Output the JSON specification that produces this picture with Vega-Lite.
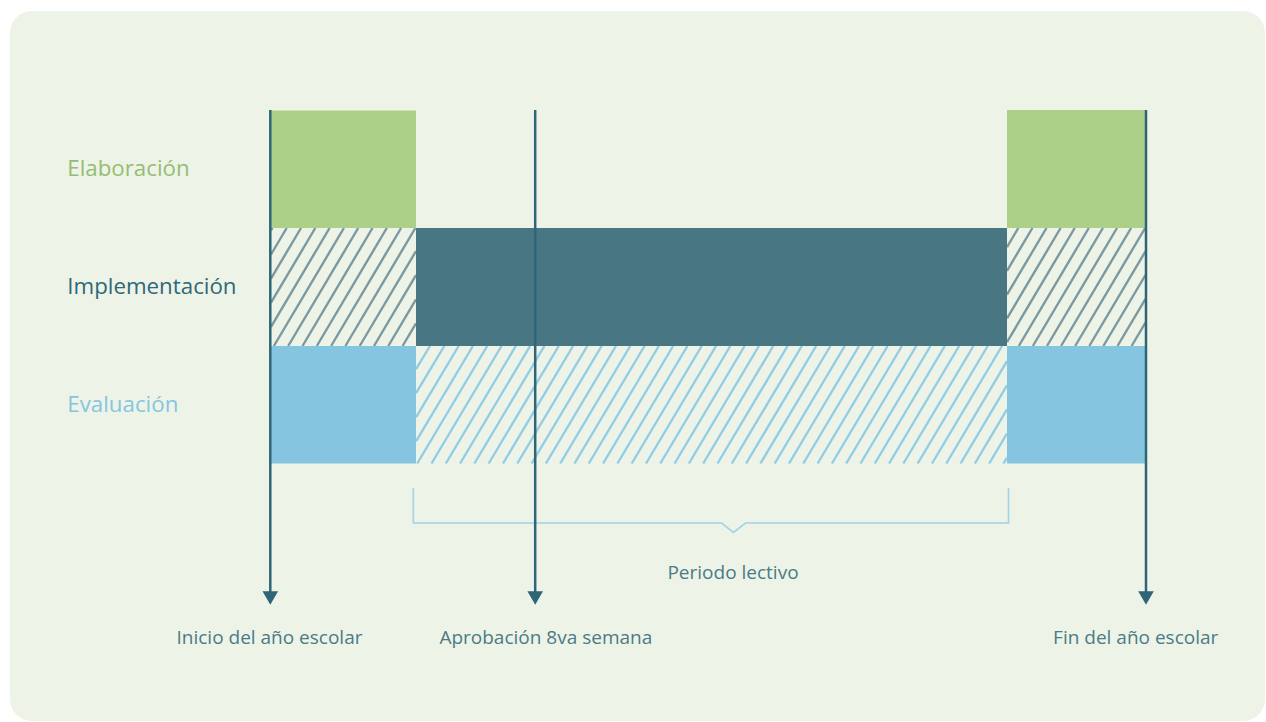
{
  "$schema": "https://vega.github.io/schema/vega-lite/v6.json",
  "autosize": {"type": "fit", "contains": "padding"},
  "width": 1266,
  "height": 722,
  "padding": {"left": 10, "top": 11, "right": 1, "bottom": 1},
  "background": "#ffffff",
  "config": {
    "view": {"fill": "#eef3e8", "stroke": null, "cornerRadius": 22},
    "axis": {"disable": true}
  },
  "datasets": {
    "bloques": [
      {"fase": "Elaboración", "x": 271, "x2": 416, "y": 110.5, "y2": 228},
      {"fase": "Elaboración", "x": 1007, "x2": 1145.5, "y": 110, "y2": 228},
      {"fase": "Implementación", "x": 416, "x2": 1007, "y": 228, "y2": 346},
      {"fase": "Evaluación", "x": 271, "x2": 416, "y": 346, "y2": 463.5},
      {"fase": "Evaluación", "x": 1007, "x2": 1145.5, "y": 346, "y2": 463.5}
    ],
    "trama": [
      {"fase": "Implementación", "x": 271, "y": 230.4, "x2": 272.4, "y2": 228},
      {"fase": "Implementación", "x": 271, "y": 254.5, "x2": 286.7, "y2": 228},
      {"fase": "Implementación", "x": 271, "y": 278.6, "x2": 301, "y2": 228},
      {"fase": "Implementación", "x": 271, "y": 302.7, "x2": 315.3, "y2": 228},
      {"fase": "Implementación", "x": 271, "y": 326.8, "x2": 329.6, "y2": 228},
      {"fase": "Implementación", "x": 273.9, "y": 346, "x2": 343.9, "y2": 228},
      {"fase": "Implementación", "x": 288.2, "y": 346, "x2": 358.2, "y2": 228},
      {"fase": "Implementación", "x": 302.5, "y": 346, "x2": 372.5, "y2": 228},
      {"fase": "Implementación", "x": 316.8, "y": 346, "x2": 386.8, "y2": 228},
      {"fase": "Implementación", "x": 331.1, "y": 346, "x2": 401.1, "y2": 228},
      {"fase": "Implementación", "x": 345.4, "y": 346, "x2": 415.4, "y2": 228},
      {"fase": "Implementación", "x": 359.7, "y": 346, "x2": 416, "y2": 251.1},
      {"fase": "Implementación", "x": 374, "y": 346, "x2": 416, "y2": 275.2},
      {"fase": "Implementación", "x": 388.3, "y": 346, "x2": 416, "y2": 299.3},
      {"fase": "Implementación", "x": 402.6, "y": 346, "x2": 416, "y2": 323.4},
      {"fase": "Implementación", "x": 1007, "y": 247.1, "x2": 1018.3, "y2": 228},
      {"fase": "Implementación", "x": 1007, "y": 270.8, "x2": 1032.4, "y2": 228},
      {"fase": "Implementación", "x": 1007, "y": 294.6, "x2": 1046.5, "y2": 228},
      {"fase": "Implementación", "x": 1007, "y": 318.4, "x2": 1060.6, "y2": 228},
      {"fase": "Implementación", "x": 1007, "y": 342.1, "x2": 1074.7, "y2": 228},
      {"fase": "Implementación", "x": 1018.8, "y": 346, "x2": 1088.8, "y2": 228},
      {"fase": "Implementación", "x": 1032.9, "y": 346, "x2": 1102.9, "y2": 228},
      {"fase": "Implementación", "x": 1047, "y": 346, "x2": 1117, "y2": 228},
      {"fase": "Implementación", "x": 1061.1, "y": 346, "x2": 1131.1, "y2": 228},
      {"fase": "Implementación", "x": 1075.2, "y": 346, "x2": 1145.2, "y2": 228},
      {"fase": "Implementación", "x": 1089.3, "y": 346, "x2": 1145.5, "y2": 251.3},
      {"fase": "Implementación", "x": 1103.4, "y": 346, "x2": 1145.5, "y2": 275},
      {"fase": "Implementación", "x": 1117.5, "y": 346, "x2": 1145.5, "y2": 298.8},
      {"fase": "Implementación", "x": 1131.6, "y": 346, "x2": 1145.5, "y2": 322.6},
      {"fase": "Evaluación", "x": 416, "y": 369.1, "x2": 430, "y2": 346},
      {"fase": "Evaluación", "x": 416, "y": 393.2, "x2": 444.3, "y2": 346},
      {"fase": "Evaluación", "x": 416, "y": 417.3, "x2": 458.6, "y2": 346},
      {"fase": "Evaluación", "x": 416, "y": 441.4, "x2": 472.9, "y2": 346},
      {"fase": "Evaluación", "x": 417.2, "y": 463.5, "x2": 487.2, "y2": 346},
      {"fase": "Evaluación", "x": 431.5, "y": 463.5, "x2": 501.5, "y2": 346},
      {"fase": "Evaluación", "x": 445.8, "y": 463.5, "x2": 515.8, "y2": 346},
      {"fase": "Evaluación", "x": 460.1, "y": 463.5, "x2": 530.1, "y2": 346},
      {"fase": "Evaluación", "x": 474.4, "y": 463.5, "x2": 544.4, "y2": 346},
      {"fase": "Evaluación", "x": 488.7, "y": 463.5, "x2": 558.7, "y2": 346},
      {"fase": "Evaluación", "x": 503, "y": 463.5, "x2": 573, "y2": 346},
      {"fase": "Evaluación", "x": 517.3, "y": 463.5, "x2": 587.3, "y2": 346},
      {"fase": "Evaluación", "x": 531.6, "y": 463.5, "x2": 601.6, "y2": 346},
      {"fase": "Evaluación", "x": 545.9, "y": 463.5, "x2": 615.9, "y2": 346},
      {"fase": "Evaluación", "x": 560.2, "y": 463.5, "x2": 630.2, "y2": 346},
      {"fase": "Evaluación", "x": 574.5, "y": 463.5, "x2": 644.5, "y2": 346},
      {"fase": "Evaluación", "x": 588.8, "y": 463.5, "x2": 658.8, "y2": 346},
      {"fase": "Evaluación", "x": 603.1, "y": 463.5, "x2": 673.1, "y2": 346},
      {"fase": "Evaluación", "x": 617.4, "y": 463.5, "x2": 687.4, "y2": 346},
      {"fase": "Evaluación", "x": 631.7, "y": 463.5, "x2": 701.7, "y2": 346},
      {"fase": "Evaluación", "x": 646, "y": 463.5, "x2": 716, "y2": 346},
      {"fase": "Evaluación", "x": 660.3, "y": 463.5, "x2": 730.3, "y2": 346},
      {"fase": "Evaluación", "x": 674.6, "y": 463.5, "x2": 744.6, "y2": 346},
      {"fase": "Evaluación", "x": 688.9, "y": 463.5, "x2": 758.9, "y2": 346},
      {"fase": "Evaluación", "x": 703.2, "y": 463.5, "x2": 773.2, "y2": 346},
      {"fase": "Evaluación", "x": 717.5, "y": 463.5, "x2": 787.5, "y2": 346},
      {"fase": "Evaluación", "x": 731.8, "y": 463.5, "x2": 801.8, "y2": 346},
      {"fase": "Evaluación", "x": 746.1, "y": 463.5, "x2": 816.1, "y2": 346},
      {"fase": "Evaluación", "x": 760.4, "y": 463.5, "x2": 830.4, "y2": 346},
      {"fase": "Evaluación", "x": 774.7, "y": 463.5, "x2": 844.7, "y2": 346},
      {"fase": "Evaluación", "x": 789, "y": 463.5, "x2": 859, "y2": 346},
      {"fase": "Evaluación", "x": 803.3, "y": 463.5, "x2": 873.3, "y2": 346},
      {"fase": "Evaluación", "x": 817.6, "y": 463.5, "x2": 887.6, "y2": 346},
      {"fase": "Evaluación", "x": 831.9, "y": 463.5, "x2": 901.9, "y2": 346},
      {"fase": "Evaluación", "x": 846.2, "y": 463.5, "x2": 916.2, "y2": 346},
      {"fase": "Evaluación", "x": 860.5, "y": 463.5, "x2": 930.5, "y2": 346},
      {"fase": "Evaluación", "x": 874.8, "y": 463.5, "x2": 944.8, "y2": 346},
      {"fase": "Evaluación", "x": 889.1, "y": 463.5, "x2": 959.1, "y2": 346},
      {"fase": "Evaluación", "x": 903.4, "y": 463.5, "x2": 973.4, "y2": 346},
      {"fase": "Evaluación", "x": 917.7, "y": 463.5, "x2": 987.7, "y2": 346},
      {"fase": "Evaluación", "x": 932, "y": 463.5, "x2": 1002, "y2": 346},
      {"fase": "Evaluación", "x": 946.3, "y": 463.5, "x2": 1007, "y2": 361.2},
      {"fase": "Evaluación", "x": 960.6, "y": 463.5, "x2": 1007, "y2": 385.3},
      {"fase": "Evaluación", "x": 974.9, "y": 463.5, "x2": 1007, "y2": 409.4},
      {"fase": "Evaluación", "x": 989.2, "y": 463.5, "x2": 1007, "y2": 433.5},
      {"fase": "Evaluación", "x": 1003.5, "y": 463.5, "x2": 1007, "y2": 457.6}
    ],
    "llave": [
      {"o": 1, "x": 413.3, "y": 488},
      {"o": 2, "x": 413.3, "y": 523},
      {"o": 3, "x": 721.5, "y": 523},
      {"o": 4, "x": 733.5, "y": 532.5},
      {"o": 5, "x": 745.5, "y": 523},
      {"o": 6, "x": 1008.5, "y": 523},
      {"o": 7, "x": 1008.5, "y": 488}
    ],
    "hitos": [
      {"hito": "Inicio del año escolar", "x": 270.3, "y": 110, "y2": 592},
      {"hito": "Aprobación 8va semana", "x": 535.2, "y": 110, "y2": 592},
      {"hito": "Fin del año escolar", "x": 1146, "y": 110, "y2": 592}
    ],
    "puntas": [
      {"hito": "Inicio del año escolar", "x": 270.3, "y": 598},
      {"hito": "Aprobación 8va semana", "x": 535.2, "y": 598},
      {"hito": "Fin del año escolar", "x": 1146, "y": 598}
    ],
    "etiquetas": [
      {"text": "Inicio del año escolar", "x": 269.5, "y": 644},
      {"text": "Aprobación 8va semana", "x": 545.8, "y": 644},
      {"text": "Fin del año escolar", "x": 1135.7, "y": 644},
      {"text": "Periodo lectivo", "x": 733, "y": 579.3}
    ],
    "fases": [
      {"text": "Elaboración", "x": 67.3, "y": 176},
      {"text": "Implementación", "x": 67.3, "y": 294},
      {"text": "Evaluación", "x": 67.3, "y": 411.7}
    ]
  },
  "encoding": {
    "x": {"field": "x", "type": "quantitative", "scale": {"domain": [10, 1265], "nice": false, "zero": false}, "axis": null},
    "y": {"field": "y", "type": "quantitative", "scale": {"domain": [11, 721], "nice": false, "zero": false, "reverse": true}, "axis": null}
  },
  "layer": [
    {
      "data": {"name": "trama"},
      "mark": {"type": "rule", "strokeWidth": 2.4},
      "encoding": {
        "x2": {"field": "x2"},
        "y2": {"field": "y2"},
        "color": {"field": "fase", "type": "nominal", "scale": {"domain": ["Implementación", "Evaluación"], "range": ["#7b99a1", "#91cde4"]}, "legend": null}
      }
    },
    {
      "data": {"name": "bloques"},
      "mark": {"type": "rect"},
      "encoding": {
        "x2": {"field": "x2"},
        "y2": {"field": "y2"},
        "color": {"field": "fase", "type": "nominal", "scale": {"domain": ["Elaboración", "Implementación", "Evaluación"], "range": ["#acd088", "#487783", "#86c5df"]}, "legend": null}
      }
    },
    {
      "data": {"name": "llave"},
      "mark": {"type": "line", "color": "#9fd3e6", "strokeWidth": 1.6},
      "encoding": {"order": {"field": "o", "type": "quantitative"}}
    },
    {
      "data": {"name": "hitos"},
      "mark": {"type": "rule", "color": "#2e6677", "strokeWidth": 2.5},
      "encoding": {"y2": {"field": "y2"}}
    },
    {
      "data": {"name": "puntas"},
      "mark": {"type": "point", "shape": "triangle-down", "filled": true, "opacity": 1, "size": 243, "color": "#2e6677", "strokeWidth": 0}
    },
    {
      "data": {"name": "etiquetas"},
      "mark": {"type": "text", "align": "center", "baseline": "alphabetic", "font": "Open Sans", "fontSize": 19, "color": "#4a7b87"},
      "encoding": {"text": {"field": "text"}}
    },
    {
      "data": {"name": "fases"},
      "mark": {"type": "text", "align": "left", "baseline": "alphabetic", "font": "Open Sans", "fontSize": 22.3},
      "encoding": {
        "text": {"field": "text"},
        "color": {"field": "text", "type": "nominal", "scale": {"domain": ["Elaboración", "Implementación", "Evaluación"], "range": ["#95bd72", "#2f6878", "#86c5df"]}, "legend": null}
      }
    }
  ],
  "resolve": {"scale": {"color": "independent"}}
}
